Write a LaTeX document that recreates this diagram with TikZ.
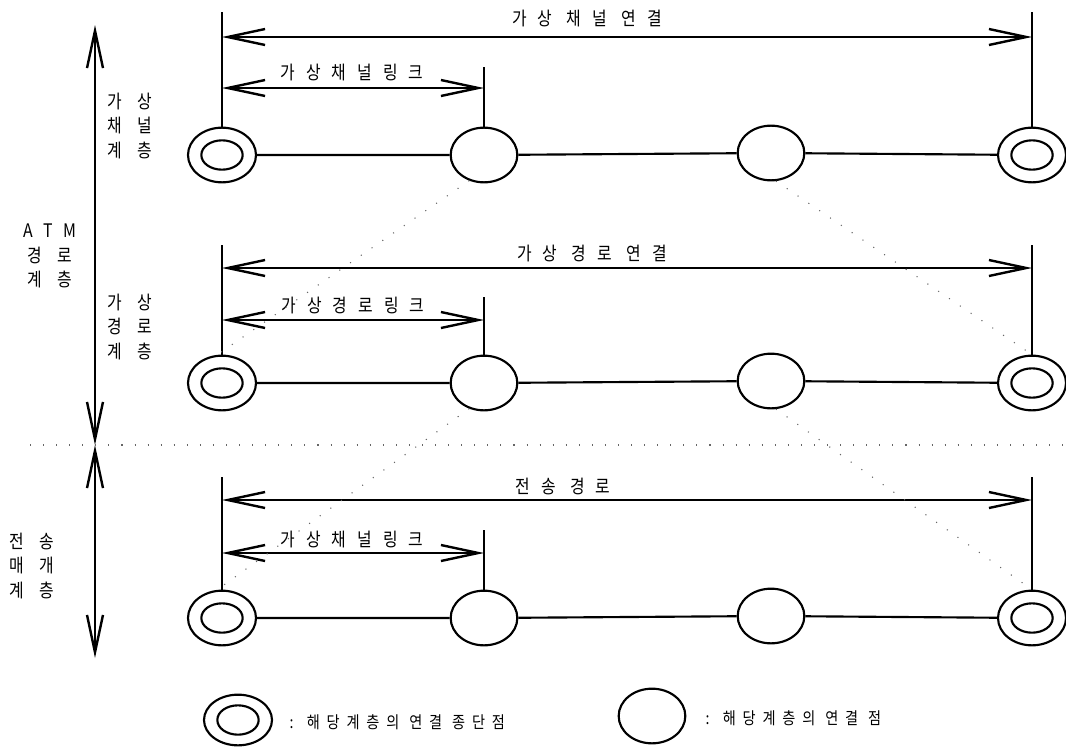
\documentclass[tikz,border=0pt]{standalone}
\usepackage{fontspec}
\usepackage{tikz}
\usetikzlibrary{positioning,arrows.meta,shapes.geometric}
\newfontfamily\krfont[FakeStretch=0.85, LetterSpace=59]{Noto Sans CJK KR}
\newfontfamily\krwide[FakeStretch=0.85, LetterSpace=80]{Noto Sans CJK KR}
\newfontfamily\krlegend[FakeStretch=0.85, LetterSpace=41]{Noto Sans CJK KR}

\begin{document}
\begin{tikzpicture}[x=0.75pt, y=-0.75pt,
  font=\krfont\fontsize{14}{16}\selectfont,
  line width=1.6pt,
  term/.style={draw, ellipse, minimum width=51pt, minimum height=41pt, inner sep=0pt},
  core/.style={draw, ellipse, minimum width=31pt, minimum height=22pt, inner sep=0pt},
  conn/.style={draw, ellipse, minimum width=50pt, minimum height=41pt, inner sep=0pt},
  span/.style={{Straight Barb[length=28pt,width=12pt]}-{Straight Barb[length=28pt,width=12pt]}, line width=1.8pt},
  layer/.style={align=center, font=\krwide\fontsize{14}{18.5}\selectfont},
  faint/.style={draw=black!60, line width=0.8pt, dash pattern=on 0.8pt off 9pt},
  legend/.style={anchor=west, font=\krlegend\fontsize{12.5}{14}\selectfont}]

\useasboundingbox (0,0) rectangle (1066,750);

% layer scale on the left
\coordinate (top) at (95,25);
\coordinate (mid) at (95,445);
\coordinate (bot) at (95,658);
\coordinate (sepL) at (30,445);
\coordinate (sepR) at (1066,445);
\draw[span] (top) -- (mid);
\draw[span] (mid) -- (bot);
\draw[faint] (sepL) -- (sepR);
\node[layer] (atm) at (50,256) {{\krfont ATM}\\경로\\계층};
\node[layer] (vcl) at (130,126) {가상\\채널\\계층};
\node[layer] (vpl) at (130,327) {가상\\경로\\계층};
\node[layer] (tpl) at (32,566) {전송\\매개\\계층};

% virtual channel level
\node[term] (t11) at (222,155) {};
\node[core] (t11c) at (t11) {};
\node[conn] (p12) at (484,155) {};
\node[conn] (p13) at (771,153) {};
\node[term] (t14) at (1032,155) {};
\node[core] (t14c) at (t14) {};
\draw (t11) -- (p12) -- (p13) -- (t14);
\coordinate (v11) at (222,12);
\coordinate (v12) at (484,67);
\coordinate (v14) at (1032,12);
\draw (t11) -- (v11);
\draw (p12) -- (v12);
\draw (t14) -- (v14);
\draw[span] (v11 |- 0,37) -- (v14 |- 0,37);
\draw[span] (v11 |- 0,88) -- (v12 |- 0,88);
\node (vcc) at (587,19) {가상 채널 연결};
\node (vcln) at (352,73) {가상채널링크};

% virtual path level
\node[term] (t21) at (222,383) {};
\node[core] (t21c) at (t21) {};
\node[conn] (p22) at (484,383) {};
\node[conn] (p23) at (771,381) {};
\node[term] (t24) at (1032,383) {};
\node[core] (t24c) at (t24) {};
\draw (t21) -- (p22) -- (p23) -- (t24);
\coordinate (v21) at (222,245);
\coordinate (v22) at (484,297);
\coordinate (v24) at (1032,245);
\draw (t21) -- (v21);
\draw (p22) -- (v22);
\draw (t24) -- (v24);
\draw[span] (v21 |- 0,268) -- (v24 |- 0,268);
\draw[span] (v21 |- 0,320) -- (v22 |- 0,320);
\node (vpc) at (592,253) {가상 경로 연결};
\node (vpln) at (353,305) {가상경로링크};

% transmission level
\node[term] (t31) at (222,618) {};
\node[core] (t31c) at (t31) {};
\node[conn] (p32) at (484,618) {};
\node[conn] (p33) at (771,616) {};
\node[term] (t34) at (1032,618) {};
\node[core] (t34c) at (t34) {};
\draw (t31) -- (p32) -- (p33) -- (t34);
\coordinate (v31) at (222,477);
\coordinate (v32) at (484,530);
\coordinate (v34) at (1032,477);
\draw (t31) -- (v31);
\draw (p32) -- (v32);
\draw (t34) -- (v34);
\draw[span] (v31 |- 0,500) -- (v34 |- 0,500);
\draw[span] (v31 |- 0,553) -- (v32 |- 0,553);
\node (tpath) at (563,486) {전송 경로};
\node (tpln) at (352,539) {가상채널링크};

% mapping between levels
\draw[faint] (p12.240) -- (t21.100);
\draw[faint] (p13.280) -- (t24.north);
\draw[faint] (p22.240) -- (t31.100);
\draw[faint] (p23.280) -- (t34.north);

% legend
\node[term, minimum height=38pt] (lt) at (238,720) {};
\node[core] (ltc) at (lt) {};
\node[legend] (ltx) at (284,722) {: 해당계층의 연결 종단점};
\node[conn] (lp) at (652,716) {};
\node[legend] (lpx) at (700,718) {: 해당계층의 연결 점};
\end{tikzpicture}
\end{document}
